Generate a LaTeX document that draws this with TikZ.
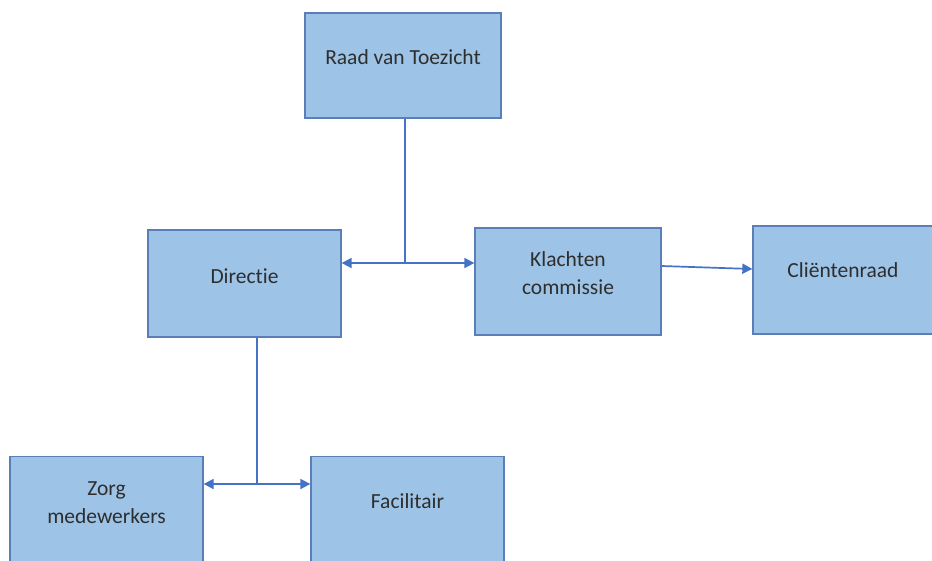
\documentclass[tikz,border=0pt]{standalone}
\usepackage{fontspec}
\setmainfont[Ligatures=NoCommon]{Carlito}
\usetikzlibrary{arrows.meta,calc}
\definecolor{boxfill}{HTML}{9DC3E6}
\definecolor{boxline}{HTML}{5A7FB8}
\definecolor{conn}{HTML}{4472C4}
\definecolor{txt}{HTML}{2E2E2E}
\tikzset{
  orgbox/.style={draw=boxline, line width=1.3pt, fill=boxfill, minimum width=193pt, minimum height=107pt, inner sep=0pt},
  boxtext/.style={text=txt, font=\fontsize{21.5}{28}\selectfont, align=center},
  link/.style={draw=conn, line width=1.7pt},
  arr/.style={link, -{Triangle[length=10pt,width=10pt]}}
}
\begin{document}
\begin{tikzpicture}[x=1pt,y=-1pt]
\useasboundingbox[fill=white] (0,0) rectangle (932,560);
\node[orgbox, minimum width=196pt, minimum height=105pt] (raad) at (403,65.5) {};
\node[orgbox] (dir) at (244.5,283.5) {};
\node[orgbox, minimum width=186pt] (klacht) at (568,281.5) {};
\node[orgbox, minimum width=186pt, minimum height=108pt] (client) at (846,280) {};
\node[orgbox] (zorg) at (106.5,510) {};
\node[orgbox] (fac) at (407.5,510) {};
\node[boxtext] (traad) at (403,57) {Raad van Toezicht};
\node[boxtext] (tdir) at (244.5,276) {Directie};
\node[boxtext] (tklacht) at (568,273) {Klachten\\commissie};
\node[boxtext] (tclient) at (843,270) {Cliëntenraad};
\node[boxtext] (tzorg) at (106.5,503) {Zorg\\medewerkers};
\node[boxtext] (tfac) at (407.5,501) {Facilitair};
\coordinate (j1) at (405,263);
\coordinate (j2) at (257,484);
\draw[link] (raad.south -| j1) -- (j1);
\draw[arr] (j1) -- (j1 -| dir.east);
\draw[arr] (j1) -- (j1 -| klacht.west);
\draw[arr] ($(klacht.east)+(0,-15.5)$) -- ($(client.west)+(0,-11)$);
\draw[link] (dir.south -| j2) -- (j2);
\draw[arr] (j2) -- (j2 -| zorg.east);
\draw[arr] (j2) -- (j2 -| fac.west);
\end{tikzpicture}
\end{document}
